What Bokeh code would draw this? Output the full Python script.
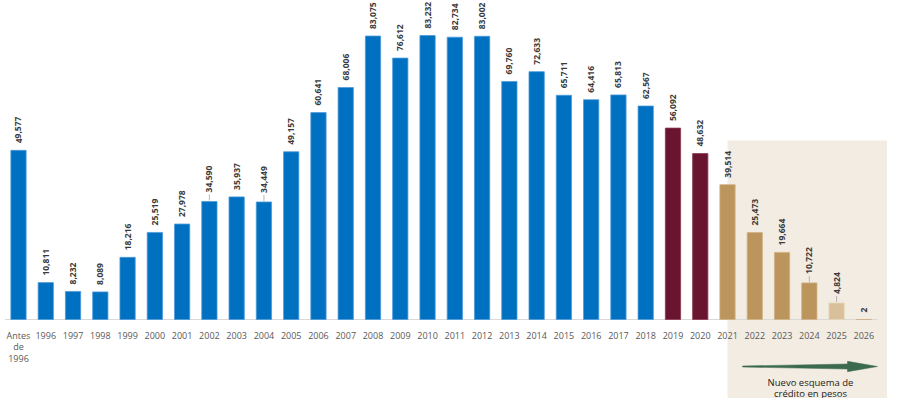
from bokeh.plotting import figure
from bokeh.models import ColumnDataSource, Range1d, FixedTicker
from bokeh.core.properties import value
from bokeh.embed import file_html
from bokeh.resources import INLINE

categories = ["Antes\nde\n1996"] + [str(y) for y in range(1996, 2027)]
values = [49577, 10811, 8232, 8089, 18216, 25519, 27978, 34590, 35937, 34449,
          49157, 60641, 68006, 83075, 76612, 83232, 82734, 83002, 69760, 72633,
          65711, 64416, 65813, 62567, 56092, 48632, 39514, 25473, 19664, 10722,
          4824, 2]
groups = ["blue"] * 24 + ["maroon"] * 2 + ["tan"] * 4 + ["light"] + ["tan"]
leaders = ["2002", "2004", "2024", "2025"]
new_scheme_start = "2021"
note_lines = ["Nuevo esquema de", "crédito en pesos"]

fill = {"blue": "#0070C0", "maroon": "#6A1530", "tan": "#BC955C", "light": "#D8C09A"}
edge = {"blue": "#4D9BDA", "maroon": "#8A3A52", "tan": "#D0B385", "light": "#E6D5B8"}

n = len(categories)
xs = list(range(n))
src = ColumnDataSource(dict(
    x=xs, top=values,
    color=[fill[g] for g in groups],
    edge=[edge[g] for g in groups],
    label=[f"{v:,}" for v in values],
    yoff=[-9 if c in leaders else -7 for c in categories],
))

W, H = 887, 398
BASE = 319                 # baseline, px from top
PX = 83232 / 284.0         # data units per pixel (vertical)
STEP, C0 = 27.27, 18.0     # px per category, first category centre

def xd(px):
    return (px - C0) / STEP

def yd(py):
    return (BASE - py) * PX

x0, x1 = xd(0), xd(W)
y0, y1 = yd(H), yd(0)

p = figure(width=W, height=H, output_backend="svg", toolbar_location=None,
           x_range=Range1d(x0, x1), y_range=Range1d(y0, y1),
           y_axis_location=None, min_border=0, outline_line_color=None,
           background_fill_color="white", border_fill_color="white")
p.grid.visible = False

# shaded region for new credit scheme
sx = categories.index(new_scheme_start)
p.quad(left=[sx], right=[x1], top=[yd(140)], bottom=[y0],
       fill_color="#F3ECE2", line_color=None)

# baseline
p.segment(x0=[-0.5], x1=[n - 0.5], y0=[0], y1=[0], line_color="#D9D9D9", line_width=1)

p.vbar(x="x", top="top", width=0.56, bottom=0, source=src,
       fill_color="color", line_color="edge", line_width=0.8)

# leader lines
li = [categories.index(c) for c in leaders]
p.segment(x0=li, x1=li, y0=[values[i] + 1 * PX for i in li],
          y1=[values[i] + 7 * PX for i in li], line_color="#A6A6A6", line_width=0.8)

p.text(x="x", y="top", text="label", source=src, angle=1.5708,
       text_align="left", text_baseline="middle", y_offset="yoff",
       text_font=value("Open Sans"), text_font_style="bold",
       text_font_size="8.5px", text_color="#3A3A3A")

# arrow
ay = yd(366)
ax0, axh, ax1 = xd(742), xd(847), xd(877)
p.patch(x=[ax0, axh, axh, ax1, axh, axh, ax0],
        y=[ay + 0.5 * PX, ay + 2.5 * PX, ay + 5.2 * PX, ay, ay - 5.2 * PX, ay - 2.5 * PX, ay - 0.5 * PX],
        fill_color="#3B6A4E", line_color="#3B6A4E", line_width=0.5)

p.text(x=[xd(810)] * 2, y=[yd(382), yd(392.5)], text=note_lines,
       text_align="center", text_baseline="middle", text_font=value("Open Sans"),
       text_font_size="9.5px", text_color="#222222")

ax = p.xaxis[0]
ax.fixed_location = 0
ax.ticker = FixedTicker(ticks=xs)
ax.major_label_overrides = {i: c for i, c in enumerate(categories)}
ax.axis_line_color = None
ax.major_tick_line_color = None
ax.minor_tick_line_color = None
ax.major_label_standoff = 3
ax.major_label_text_font = "Open Sans"
ax.major_label_text_font_size = "9px"
ax.major_label_text_line_height = 0.9
ax.major_label_text_color = "#595959"

open("out.html", "w").write(file_html(p, INLINE))
